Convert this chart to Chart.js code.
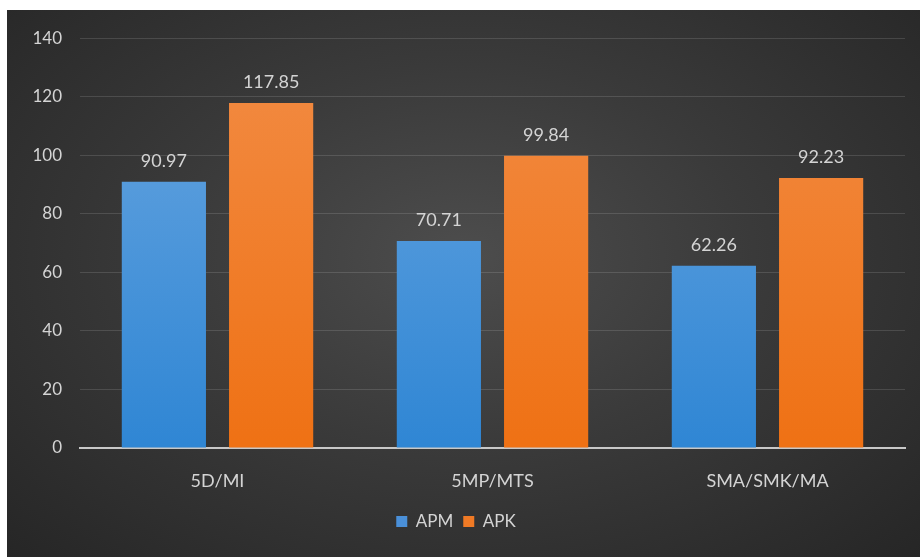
<!DOCTYPE html>
<html>
<head>
<meta charset="utf-8">
<script src="https://cdn.jsdelivr.net/npm/chart.js@4/dist/chart.umd.min.js"></script>
<style>
  html, body { margin: 0; padding: 0; background: #fff; }
  #panel {
    position: absolute; left: 7px; top: 10px; width: 913px; height: 547px;
    background: radial-gradient(ellipse at 50% 45%, #4d4d4d 0%, #3a3a3a 45%, #262626 100%);
  }
  canvas { display: block; }
</style>
</head>
<body>
<div id="panel"><canvas id="grafico" width="913" height="547"></canvas></div>
<script>
// datos del grafico
var categorias = ['5D/MI', '5MP/MTS', 'SMA/SMK/MA'];
var apm = [90.97, 70.71, 62.26];
var apk = [117.85, 99.84, 92.23];
var ticksY = [0, 20, 40, 60, 80, 100, 120, 140];

function degradado(c, top, bottom) {
    var area = c.chart.chartArea;
    if (!area) return bottom;
    var g = c.chart.ctx.createLinearGradient(0, area.top, 0, area.bottom);
    g.addColorStop(0, top);
    g.addColorStop(1, bottom);
    return g;
}

// etiquetas sobre las barras
var etiquetas = {
    id: 'etiquetas',
    afterDatasetsDraw: function (chart) {
        var ctx = chart.ctx;
        ctx.save();
        ctx.font = '18px Lato';
        ctx.fillStyle = '#d4d4d4';
        ctx.textAlign = 'center';
        ctx.textBaseline = 'bottom';
        chart.data.datasets.forEach(function (ds, i) {
            chart.getDatasetMeta(i).data.forEach(function (bar, j) {
                ctx.fillText(ds.data[j].toFixed(2), bar.x, bar.y - 12);
            });
        });
        ctx.restore();
    }
};

var ctx = document.getElementById('grafico').getContext('2d');
var chart = new Chart(ctx, {
    type: 'bar',
    data: {
        labels: categorias,
        datasets: [{
            label: 'APM',
            data: apm,
            backgroundColor: function (c) { return degradado(c, '#6aa6e0', '#2f86d4'); },
            categoryPercentage: 0.78,
            barPercentage: 0.785
        }, {
            label: 'APK',
            data: apk,
            backgroundColor: function (c) { return degradado(c, '#f28c45', '#ef7114'); },
            categoryPercentage: 0.78,
            barPercentage: 0.785
        }]
    },
    options: {
        responsive: false,
        animation: false,
        layout: { padding: { top: 17, right: 15, bottom: 17, left: 0 } },
        plugins: {
            tooltip: { enabled: false },
            legend: {
                position: 'bottom',
                labels: {
                    color: '#d4d4d4',
                    font: { family: 'Lato', size: 17 },
                    boxWidth: 11,
                    boxHeight: 11,
                    padding: 10,
                    generateLabels: function (chart) {
                        var cols = ['#4a90d9', '#f07a25'];
                        return chart.data.datasets.map(function (ds, i) {
                            return { text: ds.label, fillStyle: cols[i], strokeStyle: cols[i], lineWidth: 0, datasetIndex: i, fontColor: '#d4d4d4' };
                        });
                    }
                }
            }
        },
        scales: {
            x: {
                grid: { display: false },
                border: { color: '#c8c8c8', width: 2 },
                ticks: { color: '#d4d4d4', font: { family: 'Lato', size: 18 }, padding: 14 },
                afterFit: function (s) { s.height = 55; }
            },
            y: {
                min: 0,
                max: 140,
                afterBuildTicks: function (s) { s.ticks = ticksY.map(function (v) { return { value: v }; }); },
                grid: {
                    color: function (c) { return c.tick && c.tick.value === 0 ? 'rgba(0,0,0,0)' : 'rgba(255,255,255,0.13)'; },
                    drawTicks: false
                },
                border: { display: false },
                ticks: { color: '#d4d4d4', font: { family: 'Lato', size: 17 }, padding: 18 },
                afterFit: function (s) { s.width = 73; }
            }
        }
    },
    plugins: [etiquetas]
});
</script>
</body>
</html>
